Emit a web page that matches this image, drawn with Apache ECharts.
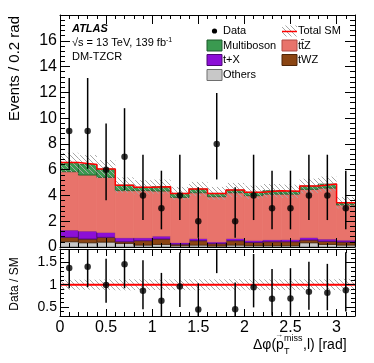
<!DOCTYPE html>
<html><head><meta charset="utf-8">
<script src="https://cdn.jsdelivr.net/npm/echarts@6/dist/echarts.min.js"></script>
<style>html,body{margin:0;padding:0;background:#fff}#c{width:374px;height:363px}</style>
</head><body><div id="c"></div>
<script>
// ---- data ----
const binEdges = [0,0.2,0.4,0.6,0.8,1.0,1.2,1.4,1.6,1.8,2.0,2.2,2.4,2.6,2.8,3.0,3.2];
const dataCounts = [9,9,6,7,4,3,4,2,8,2,4,3,3,4,4,3];
const dataErrLow = [6.06,6.06,3.62,4.42,2.09,1.37,2.09,0.71,5.24,0.71,2.09,1.37,1.37,2.09,2.09,1.37];
const dataErrHigh = [13.11,13.11,9.58,10.77,7.16,5.92,7.16,4.64,11.95,4.64,7.16,5.92,5.92,7.16,7.16,5.92];
const others     = [0.41,0.33,0.38,0.28,0.15,0.20,0.10,0.15,0.08,0.15,0.10,0.10,0.10,0.33,0.20,0.15];
const tWZ        = [0.34,0.29,0.37,0.13,0.34,0.42,0.12,0.34,0.18,0.34,0.26,0.31,0.31,0.21,0.24,0.24];
const tX         = [0.57,0.62,0.39,0.31,0.23,0.23,0.13,0.18,0.14,0.18,0.16,0.16,0.18,0.21,0.18,0.15];
const ttZ        = [4.52,4.34,4.26,3.65,3.65,3.49,3.50,3.54,3.50,3.54,3.46,3.53,3.51,3.72,3.95,2.72];
const multiboson = [0.72,0.83,0.65,0.43,0.26,0.34,0.31,0.29,0.26,0.21,0.26,0.27,0.22,0.26,0.31,0.17];
const totalUnc   = [0.75,0.72,0.70,0.60,0.55,0.55,0.50,0.55,0.50,0.55,0.52,0.52,0.52,0.57,0.58,0.45];
const xTickLabels = [0,0.5,1,1.5,2,2.5,3];
const yRatioTicks = [0.5,1,1.5];

// ---- build ----
const nb = dataCounts.length;
const centers = dataCounts.map((_,i)=>(binEdges[i]+binEdges[i+1])/2);
function hatchCanvas(){
  const c=document.createElement('canvas'); c.width=5; c.height=5;
  const g=c.getContext('2d'); g.strokeStyle='#a6a6a6'; g.lineWidth=1;
  g.beginPath(); g.moveTo(0,0); g.lineTo(5,5); g.moveTo(-1,4); g.lineTo(1,6); g.moveTo(4,-1); g.lineTo(6,1); g.stroke();
  return c;
}
const hatch = {image: hatchCanvas(), repeat:'repeat'};

const comps = [
  {name:'Others', vals:others, fill:'#c8c8c8', stroke:'#6e6e6e'},
  {name:'tWZ', vals:tWZ, fill:'#8b4513', stroke:'#4e2508'},
  {name:'t+X', vals:tX, fill:'#8c0fd6', stroke:'#4a0873'},
  {name:'ttZ', vals:ttZ, fill:'#e8736b', stroke:'#e8736b'},
  {name:'Multiboson', vals:multiboson, fill:'#3a9a50', stroke:'#1d5a2b'}
];
const cum = new Array(nb).fill(0);
function rectRender(fill, stroke, lw){
  return function(p, api){
    const a = api.coord([api.value(0), api.value(3)]);
    const b = api.coord([api.value(1), api.value(2)]);
    return {type:'rect', shape:{x:a[0], y:a[1], width:b[0]-a[0], height:b[1]-a[1]},
      style:{fill:fill, stroke:stroke, lineWidth:lw}};
  };
}
const series = [];
comps.forEach(c=>{
  const rows = c.vals.map((v,i)=>{const lo=cum[i]; cum[i]+=v; return [binEdges[i], binEdges[i+1], lo, cum[i]];});
  series.push({type:'custom', name:c.name, xAxisIndex:1, yAxisIndex:1, clip:true, z:2,
    encode:{x:[0,1], y:[2,3]}, data:rows, renderItem:rectRender(c.fill, c.stroke, 0.8)});
});
const total = cum.slice();
series.push({type:'custom', name:'unc', xAxisIndex:1, yAxisIndex:1, clip:true, z:3,
  encode:{x:[0,1], y:[2,3]},
  data: total.map((t,i)=>[binEdges[i], binEdges[i+1], t-totalUnc[i], t+totalUnc[i]]),
  renderItem:rectRender(hatch, null, 0)});
series.push({type:'line', name:'Total SM', xAxisIndex:1, yAxisIndex:1, step:'end', symbol:'none', z:4,
  data: binEdges.map((e,i)=>[e, total[Math.min(i,nb-1)]]),
  lineStyle:{color:'#ff0000', width:1.5}, silent:true});
function errRender(p, api){
  const a = api.coord([api.value(0), api.value(1)]);
  const b = api.coord([api.value(0), api.value(2)]);
  return {type:'line', shape:{x1:a[0], y1:a[1], x2:b[0], y2:b[1]}, style:{stroke:'#000', lineWidth:1.5}};
}
series.push({type:'custom', name:'dataErr', xAxisIndex:1, yAxisIndex:1, clip:true, z:5,
  encode:{x:0, y:[1,2]}, data: centers.map((x,i)=>[x, dataErrLow[i], dataErrHigh[i]]), renderItem:errRender});
series.push({type:'scatter', name:'Data', xAxisIndex:1, yAxisIndex:1, z:6, symbolSize:6.5,
  itemStyle:{color:'#000'}, data: centers.map((x,i)=>[x, dataCounts[i]])});
series.push({type:'custom', name:'uncR', xAxisIndex:5, yAxisIndex:5, clip:true, z:2,
  encode:{x:[0,1], y:[2,3]},
  data: total.map((t,i)=>[binEdges[i], binEdges[i+1], 1-totalUnc[i]/t, 1+totalUnc[i]/t]),
  renderItem:rectRender(hatch, null, 0)});
series.push({type:'line', name:'one', xAxisIndex:5, yAxisIndex:5, symbol:'none', z:3,
  data:[[binEdges[0],1],[binEdges[nb],1]], lineStyle:{color:'#ff0000', width:2}, silent:true});
series.push({type:'custom', name:'ratioErr', xAxisIndex:5, yAxisIndex:5, clip:true, z:5,
  encode:{x:0, y:[1,2]}, data: centers.map((x,i)=>[x, dataErrLow[i]/total[i], dataErrHigh[i]/total[i]]), renderItem:errRender});
series.push({type:'scatter', name:'ratio', xAxisIndex:5, yAxisIndex:5, z:6, symbolSize:6.5, clip:true,
  itemStyle:{color:'#000'}, data: centers.map((x,i)=>[x, dataCounts[i]/total[i]])});

// ---- axes ----
const FONT = 'Liberation Sans, Arial, Helvetica, sans-serif';
function xAx(grid, pos, major, labels){
  const a = {type:'value', gridIndex:grid, position:pos, min:0, max:3.2, interval:0.1, z:10,
    splitLine:{show:false},
    axisLine:{show:!major, onZero:false, lineStyle:{color:'#000', width:1}},
    axisTick:{show:true, inside:true, length: major?(grid===0?9:7):4, lineStyle:{color:'#000', width:1}},
    axisLabel:{show:false}};
  if (major){
    a.axisTick.customValues = xTickLabels;
    if (labels){ a.axisLabel = {show:true, customValues:xTickLabels, fontSize:16, color:'#000', fontFamily:FONT, margin:4, formatter:v=>String(v)}; }
  }
  return a;
}
const xAxes = [
  xAx(0,'bottom',false), xAx(0,'bottom',true,false), xAx(0,'top',false), xAx(0,'top',true,false),
  xAx(1,'bottom',false), xAx(1,'bottom',true,true), xAx(1,'top',false), xAx(1,'top',true,false)
];
function yMain(pos, major){
  return {type:'value', gridIndex:0, position:pos, min:0, max:18, interval: major?2:0.4, z:10,
    splitLine:{show:false},
    axisLine:{show:!major, onZero:false, lineStyle:{color:'#000', width:1}},
    axisTick:{show:true, inside:true, length: major?10:5, lineStyle:{color:'#000', width:1}},
    axisLabel:{show: major && pos==='left', fontSize:16, color:'#000', fontFamily:FONT, margin:3,
      formatter:v=> v>=17 ? '' : String(v)}};
}
function yRatio(pos, major){
  const a = {type:'value', gridIndex:1, position:pos, min:0.3, max:1.8, interval:0.1, z:10,
    splitLine:{show:false},
    axisLine:{show:!major, onZero:false, lineStyle:{color:'#000', width:1}},
    axisTick:{show:true, inside:true, length: major?9:4, lineStyle:{color:'#000', width:1}},
    axisLabel:{show:false}};
  if (major){
    a.axisTick.customValues = yRatioTicks;
    if (pos==='left') a.axisLabel = {show:true, customValues:yRatioTicks, fontSize:14, color:'#000', fontFamily:FONT, margin:3, formatter:v=>String(v)};
  }
  return a;
}
const yAxes = [
  yMain('left',false), yMain('left',true), yMain('right',false), yMain('right',true),
  yRatio('left',false), yRatio('left',true), yRatio('right',false), yRatio('right',true)
];

// ---- graphic texts / legend ----
const T = (x,y,text,opt)=>Object.assign({type:'text', x:x, y:y, z:100,
  style:Object.assign({text:text, fill:'#000', font:'11px '+FONT, textVerticalAlign:'middle'}, (opt||{}))});
const box = (x,y,fill,stroke)=>({type:'rect', z:100, shape:{x:x, y:y, width:15, height:11}, style:{fill:fill, stroke:stroke, lineWidth:1}});
const lx1 = 207, lx2 = 282, rows = [31, 45.5, 60, 75];
const graphic = [
  T(72,29,'ATLAS',{font:'italic bold 11px '+FONT}),
  {type:'text', x:72, y:43, z:100, style:{text:'{n|√s = 13 TeV, 139 fb}{s|-1}', textVerticalAlign:'middle',
    rich:{n:{fontSize:11, fontFamily:FONT, fill:'#000'}, s:{fontSize:7, fontFamily:FONT, fill:'#000', verticalAlign:'top', padding:[0,0,6,0]}}}},
  T(72,57,'DM-TZCR'),
  {type:'circle', z:100, shape:{cx:lx1+7.5, cy:rows[0], r:2.6}, style:{fill:'#000'}},
  T(lx1+16, rows[0], 'Data'),
  box(lx1, rows[1]-5.5, '#3a9a50', '#1d5a2b'), T(lx1+16, rows[1], 'Multiboson'),
  box(lx1, rows[2]-5.5, '#8c0fd6', '#4a0873'), T(lx1+16, rows[2], 't+X'),
  box(lx1, rows[3]-5.5, '#c8c8c8', '#6e6e6e'), T(lx1+16, rows[3], 'Others'),
  {type:'rect', z:100, shape:{x:lx2, y:rows[0]-5.5, width:15, height:11}, style:{fill:hatch}},
  {type:'line', z:101, shape:{x1:lx2, y1:rows[0]+0.5, x2:lx2+15, y2:rows[0]+0.5}, style:{stroke:'#ff0000', lineWidth:1.5}},
  T(lx2+16, rows[0], 'Total SM'),
  box(lx2, rows[1]-5.5, '#e8736b', '#b04a44'), T(lx2+16, rows[1], 'tt\u0304Z'),
  box(lx2, rows[2]-5.5, '#8b4513', '#4e2508'), T(lx2+16, rows[2], 'tWZ'),
  {type:'text', x:15, y:16, rotation:Math.PI/2, z:100, style:{text:'Events / 0.2 rad', font:'15px '+FONT, fill:'#000', textAlign:'right', textVerticalAlign:'middle'}},
  {type:'text', x:15, y:284, rotation:Math.PI/2, z:100, style:{text:'Data / SM', font:'12px '+FONT, fill:'#000', textAlign:'center', textVerticalAlign:'middle'}},
  T(253,345,'Δφ(p',{font:'14px '+FONT}),
  T(275,335,'→',{font:'8px '+FONT}),
  T(284,339,'miss',{font:'9px '+FONT}),
  T(284,352,'T',{font:'9px '+FONT}),
  T(303,345,',l) [rad]',{font:'14px '+FONT})
];

const option = {
  animation:false, backgroundColor:'#fff',
  grid:[{left:60, top:15, width:295, height:232}, {left:60, top:249, width:295, height:67}],
  xAxis:xAxes, yAxis:yAxes, series:series, graphic:graphic
};
const chart = echarts.init(document.getElementById('c'));
chart.setOption(option);
</script></body></html>
